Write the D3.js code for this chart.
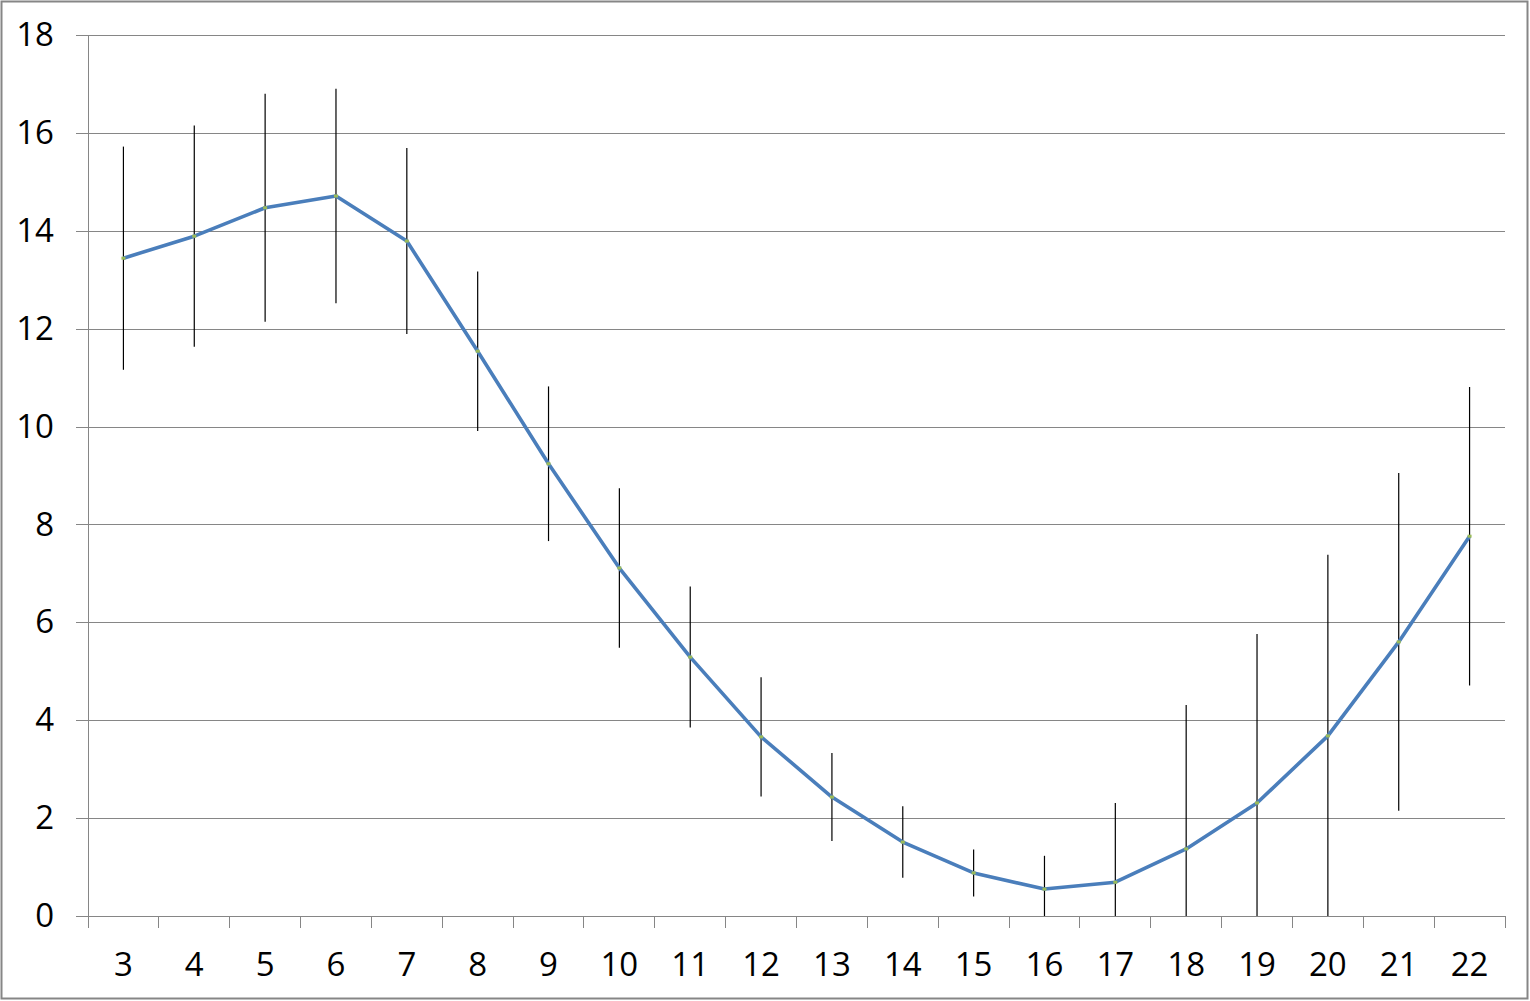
<!DOCTYPE html>
<html>
<head>
<meta charset="utf-8">
<script src="https://cdn.jsdelivr.net/npm/d3@7"></script>
<style>
  body { margin: 0; background: #fff; }
  svg { display: block; }
  .tick text { font-family: "Open Sans", "Noto Sans", sans-serif; font-size: 33px; fill: #000; }
</style>
</head>
<body>
<div id="chart"></div>
<script>
// values
var categories = [3, 4, 5, 6, 7, 8, 9, 10, 11, 12, 13, 14, 15, 16, 17, 18, 19, 20, 21, 22];
var means = [13.44, 13.89, 14.47, 14.71, 13.79, 11.54, 9.24, 7.11, 5.29, 3.66,
             2.43, 1.51, 0.88, 0.55, 0.69, 1.37, 2.31, 3.68, 5.60, 7.76];
var errors = [2.28, 2.26, 2.33, 2.19, 1.90, 1.63, 1.58, 1.63, 1.44, 1.22,
              0.90, 0.73, 0.48, 0.68, 1.62, 2.94, 3.45, 3.70, 3.45, 3.05];
var yTicks = [0, 2, 4, 6, 8, 10, 12, 14, 16, 18];

var svgWidth = 1530;
var svgHeight = 1001;
var margin = { top: 35, right: 25, bottom: 85, left: 88 };
var chartWidth = svgWidth - margin.left - margin.right;
var chartHeight = svgHeight - margin.top - margin.bottom;

var svg = d3.select("#chart").append("svg")
  .attr("width", svgWidth)
  .attr("height", svgHeight);

// outer frame
svg.append("rect")
  .attr("x", 1.5).attr("y", 1.5)
  .attr("width", svgWidth - 4).attr("height", svgHeight - 4)
  .attr("fill", "#fff")
  .attr("stroke", "#868686")
  .attr("stroke-width", 2);

var chartGroup = svg.append("g")
  .attr("transform", `translate(${margin.left}, ${margin.top})`);

var x = d3.scaleBand().domain(categories).range([0, chartWidth]);
var y = d3.scaleLinear().domain([0, 18]).range([chartHeight, 0]);

// gridlines + y axis
var leftAxis = d3.axisLeft(y).tickValues(yTicks).tickSize(12).tickPadding(22);
var yAxis = chartGroup.append("g").call(leftAxis);
yAxis.select(".domain").remove();
yAxis.selectAll(".tick line").remove();
yAxis.selectAll(".tick").append("line")
  .attr("x1", -12).attr("x2", chartWidth)
  .attr("stroke", "#868686").attr("stroke-width", 1)
  .attr("shape-rendering", "crispEdges");
yAxis.append("line")
  .attr("x1", 0).attr("x2", 0).attr("y1", 0).attr("y2", chartHeight + 12)
  .attr("stroke", "#868686").attr("shape-rendering", "crispEdges");

// x axis with ticks between categories
var bottomAxis = d3.axisBottom(x).tickSize(0).tickPadding(36);
var xAxis = chartGroup.append("g")
  .attr("transform", `translate(0, ${chartHeight})`)
  .call(bottomAxis);
xAxis.select(".domain").remove();
xAxis.selectAll(".tick text").attr("dy", "0.32em").attr("y", 49);
xAxis.selectAll(".boundary")
  .data(categories.concat(["end"]))
  .enter()
  .append("line")
  .attr("x1", (d, i) => i * x.step())
  .attr("x2", (d, i) => i * x.step())
  .attr("y1", 0).attr("y2", 12)
  .attr("stroke", "#868686")
  .attr("shape-rendering", "crispEdges");

var cx = d => x(d) + x.bandwidth() / 2;

// error bars
chartGroup.selectAll(".err")
  .data(categories)
  .enter()
  .append("line")
  .attr("class", "err")
  .attr("x1", (d, i) => cx(d))
  .attr("x2", (d, i) => cx(d))
  .attr("y1", (d, i) => y(Math.max(0, means[i] - errors[i])))
  .attr("y2", (d, i) => y(means[i] + errors[i]))
  .attr("stroke", "#000")
  .attr("stroke-width", 1.2);

// mean line
var line = d3.line()
  .x((d, i) => cx(categories[i]))
  .y(d => y(d));
chartGroup.append("path")
  .datum(means)
  .attr("d", line)
  .attr("fill", "none")
  .attr("stroke", "#4a7ebb")
  .attr("stroke-width", 3.6)
  .attr("stroke-linejoin", "round");

// small markers
chartGroup.selectAll(".mark")
  .data(means)
  .enter()
  .append("rect")
  .attr("x", (d, i) => cx(categories[i]) - 2)
  .attr("y", d => y(d) - 1.5)
  .attr("width", 4)
  .attr("height", 3)
  .attr("fill", "#9bbb59");
</script>
</body>
</html>
